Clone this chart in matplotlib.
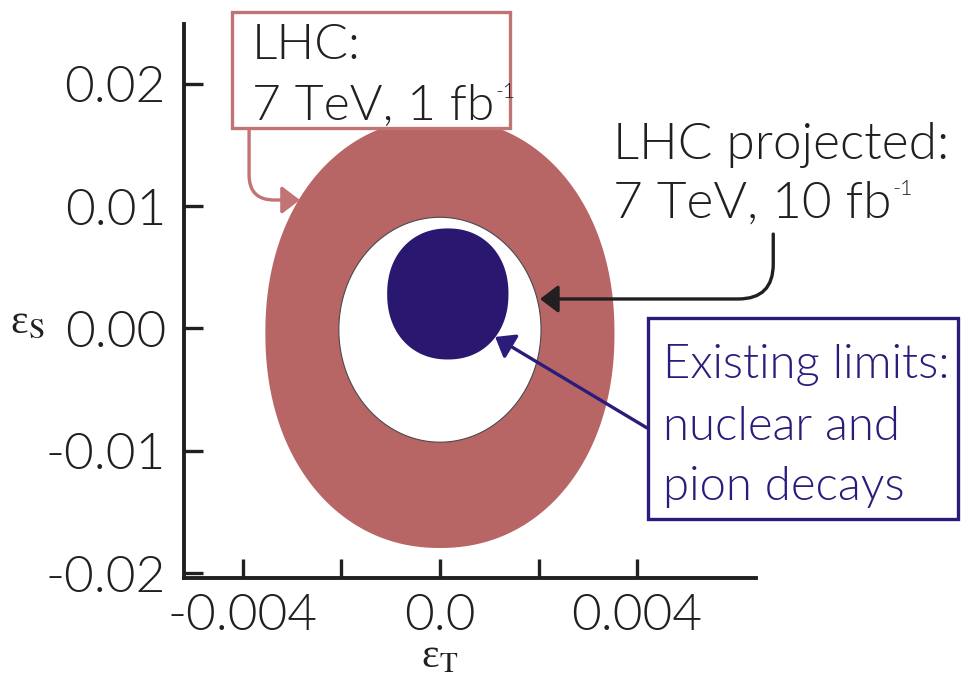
import numpy as np
import matplotlib
matplotlib.use("Agg")
import matplotlib.pyplot as plt
from matplotlib.patches import Rectangle, ArrowStyle

plt.rcParams["font.family"] = ["Lato", "DejaVu Sans"]
plt.rcParams["font.weight"] = 300

# ---- axes ticks -------------------------------------------------------
x_ticks = [-0.004, 0.0, 0.004]
x_tick_labels = ["-0.004", "0.0", "0.004"]
x_minor_ticks = [-0.002, 0.002]
y_ticks = [-0.02, -0.01, 0.0, 0.01, 0.02]
y_tick_labels = ["-0.02", "-0.01", "0.00", "0.01", "0.02"]
x_limits = (-0.00519, 0.00641)
y_limits = (-0.02037, 0.02486)

# ---- allowed regions (centre, semi-axes, superellipse exponent) -------
lhc_1fb_center = (0.0, -0.00037)
lhc_1fb_radii = (0.00354, 0.01755)
lhc_1fb_power = 2.12

lhc_10fb_center = (0.0, -0.0001)
lhc_10fb_radii = (0.00205, 0.00918)
lhc_10fb_power = 2.0

existing_center = (0.00016, 0.00282)
existing_radii = (0.00123, 0.00535)
existing_power = 2.15

# ---- annotation arrows (tail, head) in data units ----------------------
arrow_1fb = ((-0.00387, 0.01637), (-0.00284, 0.01049))
arrow_10fb = ((0.00676, 0.00771), (0.00203, 0.00241))
arrow_existing = ((0.00420, -0.00812), (0.00112, -0.00069))

RED = "#b86566"
RED_EDGE = "#c27374"
BLUE = "#2a176f"
BLUE_TEXT = "#2b1c7c"
INK = "#231f20"


def superellipse(center, radii, power, n=600):
    t = np.linspace(0, 2 * np.pi, n)
    c, s = np.cos(t), np.sin(t)
    x = center[0] + radii[0] * np.sign(c) * np.abs(c) ** (2.0 / power)
    y = center[1] + radii[1] * np.sign(s) * np.abs(s) ** (2.0 / power)
    return x, y


W, H = 962, 678
fig = plt.figure(figsize=(W / 100, H / 100), dpi=100)
ax = fig.add_axes([184 / W, 1 - 578 / H, (756 - 184) / W, (578 - 24) / H])

x, y = superellipse(lhc_1fb_center, lhc_1fb_radii, lhc_1fb_power)
ax.fill(x, y, facecolor=RED, edgecolor="none", zorder=1)
x, y = superellipse(lhc_10fb_center, lhc_10fb_radii, lhc_10fb_power)
ax.fill(x, y, facecolor="white", edgecolor="#4a4a4a", lw=0.8, zorder=2)
x, y = superellipse(existing_center, existing_radii, existing_power)
ax.fill(x, y, facecolor=BLUE, edgecolor="none", zorder=3)

ax.set_xlim(*x_limits)
ax.set_ylim(*y_limits)
ax.set_xticks(x_ticks)
ax.set_xticklabels(x_tick_labels)
ax.set_xticks(x_minor_ticks, minor=True)
ax.set_yticks(y_ticks)
ax.set_yticklabels(y_tick_labels)

for side in ("top", "right"):
    ax.spines[side].set_visible(False)
for side in ("left", "bottom"):
    ax.spines[side].set_linewidth(2.8)
    ax.spines[side].set_color(INK)

ax.tick_params(which="both", direction="in", length=14, width=2.4,
               color=INK, labelcolor=INK, labelsize=37)
ax.tick_params(axis="y", pad=13)
ax.tick_params(axis="x", pad=11)

serif = ["Liberation Serif", "DejaVu Serif"]
ax.set_xlabel(r"ε$_{\mathrm{T}}$", fontsize=30, color=INK, family=serif,
              fontweight="normal", math_fontfamily="stix", va="center")
ax.xaxis.set_label_coords((440 - 184) / 572, (578 - 657) / 554)
ax.set_ylabel(r"ε$_{\mathrm{S}}$", fontsize=30, color=INK, family=serif,
              fontweight="normal", math_fontfamily="stix",
              rotation=0, ha="center", va="center")
ax.yaxis.set_label_coords((27 - 184) / 572, (578 - 322) / 554)

# ---- arrows ------------------------------------------------------------
head = ArrowStyle("-|>", head_length=0.55, head_width=0.42)
ax.annotate("", xy=arrow_1fb[1], xytext=arrow_1fb[0],
            arrowprops=dict(arrowstyle=head, mutation_scale=20, color=RED_EDGE,
                            lw=2.4, shrinkA=0, shrinkB=0,
                            connectionstyle="angle,angleA=-90,angleB=180,rad=25"),
            annotation_clip=False, zorder=6)
ax.annotate("", xy=arrow_10fb[1], xytext=arrow_10fb[0],
            arrowprops=dict(arrowstyle=head, mutation_scale=20, color=INK,
                            lw=2.4, shrinkA=0, shrinkB=0,
                            connectionstyle="angle,angleA=-90,angleB=180,rad=35"),
            annotation_clip=False, zorder=6)
ax.annotate("", xy=arrow_existing[1], xytext=arrow_existing[0],
            arrowprops=dict(arrowstyle=head, mutation_scale=20, color=BLUE_TEXT,
                            lw=2.4, shrinkA=0, shrinkB=0),
            annotation_clip=False, zorder=6)

# ---- label boxes -------------------------------------------------------
renderer = fig.canvas.get_renderer()


def fig_box(x0, y0, x1, y1, edge):
    fig.add_artist(Rectangle((x0 / W, 1 - y1 / H), (x1 - x0) / W, (y1 - y0) / H,
                             transform=fig.transFigure, facecolor="white",
                             edgecolor=edge, lw=2.4, zorder=5))


def fig_line(x0, baseline, s, color, size, sup=None):
    t = fig.text(x0 / W, 1 - baseline / H, s, color=color, fontsize=size,
                 ha="left", va="baseline", zorder=7)
    if sup:
        right = t.get_window_extent(renderer).x1
        fig.text((right + 1) / W, 1 - (baseline - size * 0.62) / H, sup,
                 color=color, fontsize=size * 0.42, ha="left",
                 va="baseline", zorder=7)


fig_box(232, 12, 510, 128, RED_EDGE)
fig_line(252, 59, "LHC:", INK, 36)
fig_line(252, 120, "7 TeV, 1 fb", INK, 36, sup="-1")

fig_line(613, 159, "LHC projected:", INK, 37)
fig_line(613, 218, "7 TeV, 10 fb", INK, 37, sup="-1")

fig_box(648, 318, 958, 519, BLUE_TEXT)
fig_line(663, 378, "Existing limits:", BLUE_TEXT, 34)
fig_line(663, 440, "nuclear and", BLUE_TEXT, 34)
fig_line(663, 500, "pion decays", BLUE_TEXT, 34)

fig.savefig("out.png", dpi=100, facecolor="white")
